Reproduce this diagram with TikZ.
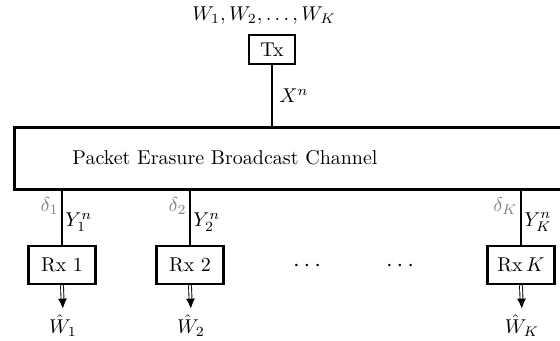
\documentclass[tikz,border=0pt]{standalone}
\usetikzlibrary{arrows.meta}
\begin{document}
\begin{tikzpicture}[x=0.5pt,y=-0.5pt,
  box/.style={draw,line width=1.3pt,inner sep=0pt,minimum width=#1},
  link/.style={line width=1.4pt},
  dlabel/.style={text=gray,inner sep=1pt},
  outarrow/.style={double,double distance=1pt,line width=0.45pt,-{Latex[length=5pt,width=4.5pt]},shorten >=2pt},
  lbl/.style={inner sep=1pt}]
\useasboundingbox (0,0) rectangle (560,341);
\clip (0,0) rectangle (560,341);
% transmitter
\node[lbl] (msg) at (264,16) {$W_1, W_2, \dots, W_K$};
\node[box=23pt,minimum height=14.5pt] (tx) at (272,49.5) {Tx};
% channel
\node[draw,line width=1.4pt,minimum width=300pt,minimum height=31pt,inner sep=0pt,anchor=north west] (ch) at (13,126) {};
\node[lbl] (chtext) at (225,158) {Packet Erasure Broadcast Channel};
\draw[link] (tx.south) -- (tx.south |- ch.north) node[midway,right,lbl,xshift=2pt] (xn) {$X^n$};
% receivers
\foreach \n/\x/\lab/\d/\y in {1/62/{Rx 1}/{\delta_1}/{Y_1^n},2/190/{Rx 2}/{\delta_2}/{Y_2^n},K/521/{Rx\,$K$}/{\delta_K}/{Y_K^n}}{
  \node[box=33.5pt,minimum height=19pt] (rx\n) at (\x,265) {\lab};
  \draw[link] (rx\n.north) -- (rx\n.north |- ch.south);
  \node[dlabel,anchor=east] (d\n) at (\x-1,206) {$\d$};
  \node[lbl,anchor=west] (y\n) at (\x+1,222) {$\y$};
  \node[lbl] (w\n) at (\x+1,326) {$\hat{W}_\n$};
  \draw[outarrow] (rx\n.south) -- (w\n.north);
}
\node[scale=1.2] (dots1) at (307,266) {$\cdots$};
\node[scale=1.2] (dots2) at (400,266) {$\cdots$};
\end{tikzpicture}
\end{document}
